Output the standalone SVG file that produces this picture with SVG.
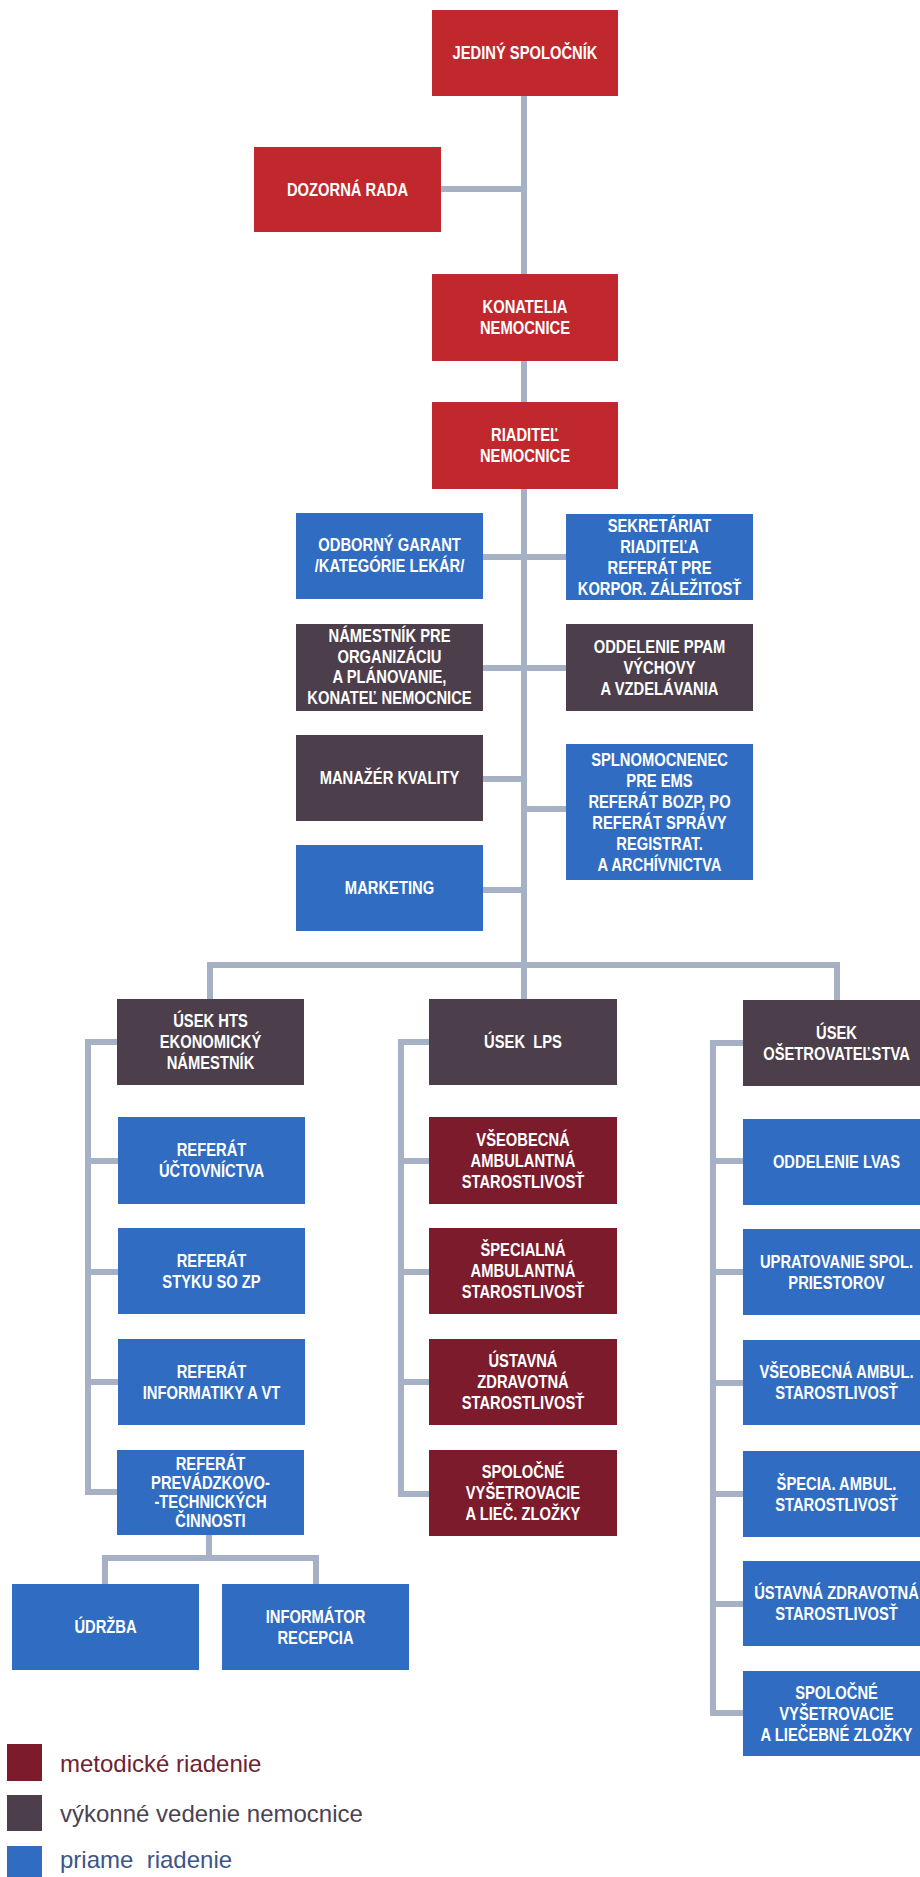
<svg xmlns="http://www.w3.org/2000/svg" width="920" height="1877" viewBox="0 0 920 1877">
<style>
.c{fill:none;stroke:#a6b1c5;stroke-width:6;stroke-linejoin:miter}
.red{fill:#c0282e}
.dark{fill:#4c3f4b}
.blue{fill:#2f6cc2}
.mar{fill:#7b1b2c}
text.t{font-family:"Liberation Sans",Arial,sans-serif;font-weight:bold;font-size:18px;fill:#ffffff;text-anchor:middle;transform-box:fill-box;transform-origin:center;transform:scaleX(0.82)}
text.l{font-family:"Liberation Sans",Arial,sans-serif;font-size:24px}
</style>
<rect width="920" height="1877" fill="#ffffff"/>
<g id="connectors">
<path class="c" d="M524 96V999"/>
<path class="c" d="M441 189H524"/>
<path class="c" d="M483 557H566"/>
<path class="c" d="M483 668H566"/>
<path class="c" d="M483 779H524"/>
<path class="c" d="M524 809H566"/>
<path class="c" d="M483 890H524"/>
<path class="c" d="M210 999V965H837V1000"/>
<path class="c" d="M117 1042H88V1492H117M88 1161H118M88 1272H118M88 1382H118"/>
<path class="c" d="M429 1042H401V1494H429M401 1161H429M401 1272H429M401 1382H429"/>
<path class="c" d="M743 1043H713V1713H743M713 1161H743M713 1272H743M713 1383H743M713 1494H743M713 1604H743"/>
<path class="c" d="M209 1535V1558M105 1584V1558H316V1584"/>
</g>
<g id="n-jediny"><rect class="red" x="432" y="10" width="186" height="86"/><text class="t" x="525" y="59.5">JEDINÝ SPOLOČNÍK</text></g>
<g id="n-dozorna"><rect class="red" x="254" y="147" width="187" height="85"/><text class="t" x="347.5" y="196">DOZORNÁ RADA</text></g>
<g id="n-konatelia"><rect class="red" x="432" y="274" width="186" height="87"/><text class="t"><tspan x="525" y="313.5">KONATELIA</tspan><tspan x="525" y="334.5">NEMOCNICE</tspan></text></g>
<g id="n-riaditel"><rect class="red" x="432" y="402" width="186" height="87"/><text class="t"><tspan x="525" y="441.5">RIADITEĽ</tspan><tspan x="525" y="462.5">NEMOCNICE</tspan></text></g>
<g id="n-odborny"><rect class="blue" x="296" y="513" width="187" height="86"/><text class="t"><tspan x="389.5" y="551">ODBORNÝ GARANT</tspan><tspan x="389.5" y="572">/KATEGÓRIE LEKÁR/</tspan></text></g>
<g id="n-sekretariat"><rect class="blue" x="566" y="514" width="187" height="86"/><text class="t"><tspan x="659.5" y="532">SEKRETÁRIAT</tspan><tspan x="659.5" y="553">RIADITEĽA</tspan><tspan x="659.5" y="574">REFERÁT PRE</tspan><tspan x="659.5" y="595">KORPOR. ZÁLEŽITOSŤ</tspan></text></g>
<g id="n-namestnik"><rect class="dark" x="296" y="624" width="187" height="87"/><text class="t"><tspan x="389.5" y="642.5">NÁMESTNÍK PRE</tspan><tspan x="389.5" y="663">ORGANIZÁCIU</tspan><tspan x="389.5" y="683.5">A PLÁNOVANIE,</tspan><tspan x="389.5" y="704">KONATEĽ NEMOCNICE</tspan></text></g>
<g id="n-ppam"><rect class="dark" x="566" y="624" width="187" height="87"/><text class="t"><tspan x="659.5" y="653">ODDELENIE PPAM</tspan><tspan x="659.5" y="674">VÝCHOVY</tspan><tspan x="659.5" y="695">A VZDELÁVANIA</tspan></text></g>
<g id="n-manazer"><rect class="dark" x="296" y="735" width="187" height="86"/><text class="t" x="389.5" y="784.5">MANAŽÉR KVALITY</text></g>
<g id="n-splnomocnenec"><rect class="blue" x="566" y="744" width="187" height="136"/><text class="t"><tspan x="659.5" y="766">SPLNOMOCNENEC</tspan><tspan x="659.5" y="787">PRE EMS</tspan><tspan x="659.5" y="808">REFERÁT BOZP, PO</tspan><tspan x="659.5" y="829">REFERÁT SPRÁVY</tspan><tspan x="659.5" y="850">REGISTRAT.</tspan><tspan x="659.5" y="871">A ARCHÍVNICTVA</tspan></text></g>
<g id="n-marketing"><rect class="blue" x="296" y="845" width="187" height="86"/><text class="t" x="389.5" y="894.5">MARKETING</text></g>
<g id="n-hts"><rect class="dark" x="117" y="999" width="187" height="86"/><text class="t"><tspan x="210.5" y="1027.5">ÚSEK HTS</tspan><tspan x="210.5" y="1048.5">EKONOMICKÝ</tspan><tspan x="210.5" y="1069.5">NÁMESTNÍK</tspan></text></g>
<g id="n-lps"><rect class="dark" x="429" y="999" width="188" height="86"/><text class="t" x="523" y="1048.5" xml:space="preserve">ÚSEK  LPS</text></g>
<g id="n-osetr"><rect class="dark" x="743" y="1000" width="187" height="86"/><text class="t"><tspan x="836.5" y="1039">ÚSEK</tspan><tspan x="836.5" y="1060">OŠETROVATEĽSTVA</tspan></text></g>
<g id="n-uctovnictva"><rect class="blue" x="118" y="1117" width="187" height="87"/><text class="t"><tspan x="211.5" y="1156.5">REFERÁT</tspan><tspan x="211.5" y="1177.5">ÚČTOVNÍCTVA</tspan></text></g>
<g id="n-styku"><rect class="blue" x="118" y="1228" width="187" height="86"/><text class="t"><tspan x="211.5" y="1267">REFERÁT</tspan><tspan x="211.5" y="1288">STYKU SO ZP</tspan></text></g>
<g id="n-informatiky"><rect class="blue" x="118" y="1339" width="187" height="86"/><text class="t"><tspan x="211.5" y="1378">REFERÁT</tspan><tspan x="211.5" y="1399">INFORMATIKY A VT</tspan></text></g>
<g id="n-prevadzkovo"><rect class="blue" x="117" y="1450" width="187" height="85"/><text class="t"><tspan x="210.5" y="1470">REFERÁT</tspan><tspan x="210.5" y="1489">PREVÁDZKOVO-</tspan><tspan x="210.5" y="1508">-TECHNICKÝCH</tspan><tspan x="210.5" y="1527">ČINNOSTI</tspan></text></g>
<g id="n-udrzba"><rect class="blue" x="12" y="1584" width="187" height="86"/><text class="t" x="105.5" y="1633.5">ÚDRŽBA</text></g>
<g id="n-informator"><rect class="blue" x="222" y="1584" width="187" height="86"/><text class="t"><tspan x="315.5" y="1623">INFORMÁTOR</tspan><tspan x="315.5" y="1644">RECEPCIA</tspan></text></g>
<g id="n-lps-vseob"><rect class="mar" x="429" y="1117" width="188" height="87"/><text class="t"><tspan x="523" y="1146">VŠEOBECNÁ</tspan><tspan x="523" y="1167">AMBULANTNÁ</tspan><tspan x="523" y="1188">STAROSTLIVOSŤ</tspan></text></g>
<g id="n-lps-spec"><rect class="mar" x="429" y="1228" width="188" height="86"/><text class="t"><tspan x="523" y="1256.5">ŠPECIALNÁ</tspan><tspan x="523" y="1277.5">AMBULANTNÁ</tspan><tspan x="523" y="1298.5">STAROSTLIVOSŤ</tspan></text></g>
<g id="n-lps-ustav"><rect class="mar" x="429" y="1339" width="188" height="86"/><text class="t"><tspan x="523" y="1367.5">ÚSTAVNÁ</tspan><tspan x="523" y="1388.5">ZDRAVOTNÁ</tspan><tspan x="523" y="1409.5">STAROSTLIVOSŤ</tspan></text></g>
<g id="n-lps-spol"><rect class="mar" x="429" y="1450" width="188" height="86"/><text class="t"><tspan x="523" y="1478.5">SPOLOČNÉ</tspan><tspan x="523" y="1499.5">VYŠETROVACIE</tspan><tspan x="523" y="1520.5">A LIEČ. ZLOŽKY</tspan></text></g>
<g id="n-lvas"><rect class="blue" x="743" y="1119" width="187" height="86"/><text class="t" x="836.5" y="1168.5">ODDELENIE LVAS</text></g>
<g id="n-uprat"><rect class="blue" x="743" y="1229" width="187" height="86"/><text class="t"><tspan x="836.5" y="1268">UPRATOVANIE SPOL.</tspan><tspan x="836.5" y="1289">PRIESTOROV</tspan></text></g>
<g id="n-os-vseob"><rect class="blue" x="743" y="1340" width="187" height="85"/><text class="t"><tspan x="836.5" y="1378.5">VŠEOBECNÁ AMBUL.</tspan><tspan x="836.5" y="1399.5">STAROSTLIVOSŤ</tspan></text></g>
<g id="n-os-spec"><rect class="blue" x="743" y="1451" width="187" height="86"/><text class="t"><tspan x="836.5" y="1490">ŠPECIA. AMBUL.</tspan><tspan x="836.5" y="1511">STAROSTLIVOSŤ</tspan></text></g>
<g id="n-os-ustav"><rect class="blue" x="743" y="1561" width="187" height="85"/><text class="t"><tspan x="836.5" y="1599.5">ÚSTAVNÁ ZDRAVOTNÁ</tspan><tspan x="836.5" y="1620.5">STAROSTLIVOSŤ</tspan></text></g>
<g id="n-os-spol"><rect class="blue" x="743" y="1671" width="187" height="85"/><text class="t"><tspan x="836.5" y="1699">SPOLOČNÉ</tspan><tspan x="836.5" y="1720">VYŠETROVACIE</tspan><tspan x="836.5" y="1741">A LIEČEBNÉ ZLOŽKY</tspan></text></g>
<g id="legend">
<rect class="mar" x="7" y="1744" width="35" height="37"/>
<text class="l" x="60" y="1772" fill="#6e2331">metodické riadenie</text>
<rect class="dark" x="7" y="1795" width="35" height="36"/>
<text class="l" x="60" y="1822" fill="#4a4252">výkonné vedenie nemocnice</text>
<rect class="blue" x="7" y="1846" width="35" height="31"/>
<text class="l" x="60" y="1868" fill="#3d5588" xml:space="preserve">priame  riadenie</text>
</g>
</svg>
